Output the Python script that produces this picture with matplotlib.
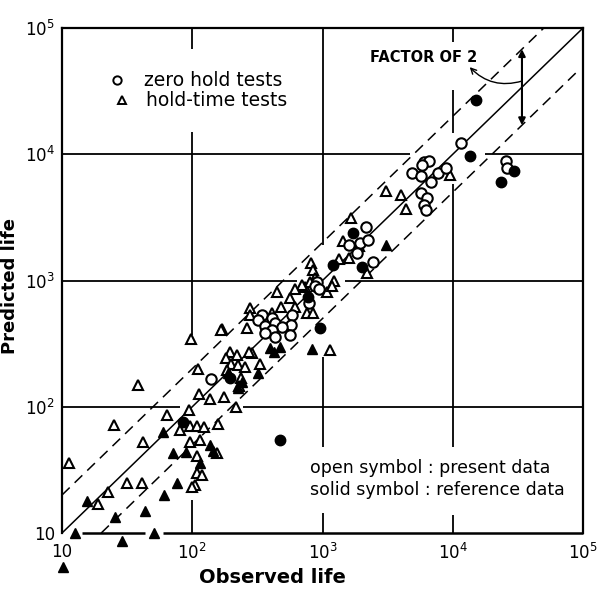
"""
    Predicted vs observed life, factor of 2 scatter band
"""

import numpy as np
import matplotlib.pyplot as plt

# zero hold tests, present data (open circles)
zero_open_obs = [11500, 25500, 26000, 6000, 6600, 5800, 4900, 5700, 6800, 7700, 8900,
                 5700, 6300, 6000, 6200, 2150, 1600, 1950, 2450, 2250, 1850, 900, 880,
                 940, 790, 345, 410, 580, 570, 320, 360, 430, 490, 560, 410, 360, 430, 140]
zero_open_pred = [12300, 8900, 7800, 8700, 8900, 8200, 7100, 6700, 6000, 7100, 7800,
                  4900, 4500, 4000, 3600, 2650, 1900, 2000, 1400, 2100, 1650, 980, 900,
                  860, 665, 535, 505, 535, 445, 490, 435, 460, 430, 370, 405, 385, 355, 165]

# hold-time tests, present data (open triangles)
hold_open_obs = [9500, 3100, 4000, 4400, 1650, 1430, 1900, 1600, 1340, 2200, 815, 730,
                 1220, 845, 875, 800, 695, 615, 1080, 1180, 445, 560, 615, 760, 845,
                 280, 480, 410, 280, 265, 170, 1140, 290, 330, 195, 180, 220, 200, 225,
                 255, 185, 275, 235, 230, 98, 165, 110, 38, 112, 137, 175, 215, 94, 64,
                 25, 80, 96, 109, 123, 157, 42, 96, 115, 155, 109, 109, 119, 105, 100,
                 11.3, 31.5, 41, 22.5, 19]
hold_open_pred = [6900, 5100, 4800, 3700, 3100, 2060, 1880, 1500, 1480, 1150, 1380, 890,
                  990, 1210, 1050, 975, 920, 855, 810, 905, 810, 730, 620, 555, 555,
                  605, 620, 555, 535, 420, 415, 280, 265, 220, 270, 245, 255, 220, 215,
                  205, 195, 270, 170, 145, 345, 405, 200, 150, 126, 115, 120, 100, 94, 86,
                  72, 65, 70, 70, 69, 73, 53, 53, 55, 43, 41, 30, 29, 24, 23,
                  36, 25, 25, 21, 17]

# zero hold tests, reference data (solid circles)
zero_solid_obs = [15000, 13500, 23400, 29400, 1700, 1200, 2000, 950, 470, 770, 195, 85]
zero_solid_pred = [27000, 9700, 6000, 7400, 2400, 1330, 1280, 420, 55, 740, 170, 76]

# hold-time tests, reference data (solid triangles)
hold_solid_obs = [3100, 830, 395, 470, 425, 320, 188, 240, 225, 60, 71, 90, 137, 144,
                  115, 15.6, 25.5, 43, 61, 76, 12.6, 29, 51, 10.2]
hold_solid_pred = [1900, 285, 290, 300, 270, 185, 185, 157, 140, 63, 43, 44, 50, 45,
                   36, 18, 13.4, 15, 20, 25, 10, 8.6, 10, 5.4]

factor = 2
decades = [10, 1e2, 1e3, 1e4, 1e5]
tick_labels = ['10', r'$10^2$', r'$10^3$', r'$10^4$', r'$10^5$']

# broken grid lines, as drawn in the original
vgrid = {1e2: [(10, 18.3), (371, 1.5e4), (6.8e4, 1e5)],
         1e3: [(10, 14.4), (48, 248), (1.9e3, 1e5)],
         1e4: [(10, 14), (48, 5.8e3), (1.48e4, 3.2e4), (7.8e4, 1e5)]}
hgrid = {1e2: [(10, 80), (245, 1e5)],
         1e3: [(10, 636), (1.48e3, 1e5)],
         1e4: [(10, 4.7e3), (1.77e4, 1e5)]}
bottom_axis = [(14.2, 43.4), (59.6, 1e5)]

fontsize = 12

fig = plt.figure(figsize=(5.98, 5.90), dpi=100)
ax = fig.add_axes([0.1037, 0.0966, 0.8712, 0.8559])
ax.set_xscale('log')
ax.set_yscale('log')
ax.set_xlim(10, 1e5)
ax.set_ylim(10, 1e5)

for s in ['left', 'top', 'right']:
    ax.spines[s].set_linewidth(1.6)
ax.spines['bottom'].set_visible(False)
for x0, x1 in bottom_axis:
    ax.hlines(10, x0, x1, color='black', lw=1.8, clip_on=False)

for x, segs in vgrid.items():
    for y0, y1 in segs:
        ax.vlines(x, y0, y1, color='black', lw=1.3)
for y, segs in hgrid.items():
    for x0, x1 in segs:
        ax.hlines(y, x0, x1, color='black', lw=1.3)

# 1:1 line and factor of 2 band
ax.plot([10, 1e5], [10, 1e5], color='black', lw=1.1)
ax.plot([10, 1e5 / factor], [10 * factor, 1e5], color='black', lw=1.1, dashes=(7, 4.5))
ax.plot([10 * factor, 9e4], [10, 9e4 / factor], color='black', lw=1.1, dashes=(7, 4.5))

ax.plot(hold_open_obs, hold_open_pred, '^', ms=7.5, mfc='white', mec='black', mew=1.5, clip_on=False)
ax.plot(zero_open_obs, zero_open_pred, 'o', ms=7.5, mfc='white', mec='black', mew=1.5, clip_on=False)
ax.plot(hold_solid_obs, hold_solid_pred, '^', ms=7.5, color='black', clip_on=False)
ax.plot(zero_solid_obs, zero_solid_pred, 'o', ms=7.5, color='black', clip_on=False)

ax.set_xticks(decades)
ax.set_yticks(decades)
ax.set_xticklabels(tick_labels, fontsize=fontsize)
ax.set_yticklabels(tick_labels, fontsize=fontsize)
ax.minorticks_off()
ax.tick_params(axis='x', length=0, pad=7)
ax.tick_params(axis='y', length=0, pad=5)

ax.text(0.403, -0.089, 'Observed life', transform=ax.transAxes, fontsize=14,
        fontweight='bold', ha='center', va='center')
ax.text(-0.1, 0.49, 'Predicted life', transform=ax.transAxes, fontsize=13,
        fontweight='bold', ha='center', va='center', rotation=90)

# legend
ax.plot([0.106], [0.897], 'o', ms=6, mfc='white', mec='black', mew=1.4, transform=ax.transAxes)
ax.plot([0.115], [0.857], '^', ms=6, mfc='white', mec='black', mew=1.4, transform=ax.transAxes)
ax.text(0.158, 0.897, 'zero hold tests', transform=ax.transAxes, fontsize=13.5, va='center')
ax.text(0.162, 0.857, 'hold-time tests', transform=ax.transAxes, fontsize=13.5, va='center')

ax.text(0.476, 0.129, 'open symbol : present data', transform=ax.transAxes, fontsize=12.5, va='center')
ax.text(0.476, 0.085, 'solid symbol : reference data', transform=ax.transAxes, fontsize=12.5, va='center')

# factor of 2 annotation
ax.annotate('', xy=(3.4e4, 6.8e4), xytext=(3.4e4, 1.7e4),
            arrowprops=dict(arrowstyle='<|-|>', color='black', lw=1.5, mutation_scale=10,
                            shrinkA=0, shrinkB=0))
ax.annotate('', xy=(1.35e4, 4.9e4), xytext=(3.4e4, 3.8e4),
            arrowprops=dict(arrowstyle='->', color='black', lw=1.0,
                            connectionstyle='arc3,rad=-0.3', shrinkA=0, shrinkB=0))
ax.text(2.3e3, 5.8e4, 'FACTOR OF 2', fontsize=10.5, fontweight='bold', va='center')

fig.savefig('out.png', dpi=100)
